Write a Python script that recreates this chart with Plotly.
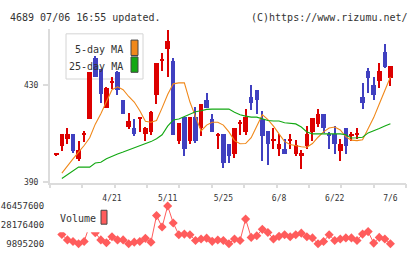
import plotly.graph_objects as go

dates = ["4/7","4/8","4/9","4/10","4/13","4/14","4/15","4/16","4/17","4/20",
         "4/21","4/22","4/23","4/24","4/27","4/28","4/30","5/1","5/7","5/8",
         "5/11","5/12","5/13","5/14","5/15","5/18","5/19","5/20","5/21","5/22",
         "5/25","5/26","5/27","5/28","5/29","6/1","6/2","6/3","6/4","6/5",
         "6/8","6/9","6/10","6/11","6/12","6/15","6/16","6/17","6/18","6/19",
         "6/22","6/23","6/24","6/25","6/26","6/29","6/30","7/1","7/2","7/3","7/6"]

opens = [401.1,404.7,407.8,409.8,399.5,409.6,416.1,441.1,436.7,420.5,
         430.8,435.1,423.9,412.7,412.1,416.0,409.7,410.7,425.9,440.0,
         444.8,440.0,406.8,416.7,406.8,416.7,412.1,423.9,416.0,409.0,
         409.7,405.8,401.5,414.0,410.7,424.9,427.9,416.0,411.0,406.8,
         403.5,403.7,407.0,401.5,400.8,404.8,410.7,414.0,418.0,409.8,
         409.8,402.8,412.1,409.0,409.4,424.9,435.8,429.9,431.6,443.7,432.8]
highs = [401.3,409.8,412.2,409.8,407.0,411.0,435.1,441.9,436.7,429.0,
         433.2,435.5,423.9,418.4,416.0,416.9,412.5,419.0,439.1,443.1,
         452.7,441.1,414.4,416.7,416.7,420.9,422.0,426.8,418.0,410.1,
         409.7,405.8,412.1,415.3,420.0,429.9,427.9,419.0,411.0,412.1,
         409.8,407.7,409.8,407.1,403.1,413.0,416.3,420.1,418.0,410.7,
         413.0,407.7,412.1,410.7,412.1,430.8,437.1,433.2,439.1,447.0,437.8]
lows = [400.9,402.7,405.8,401.9,398.7,406.6,416.1,433.2,422.5,420.3,
        428.4,425.9,418.0,411.8,408.7,410.7,406.8,409.4,422.0,435.5,
        433.2,409.4,405.4,400.8,405.8,406.1,408.7,420.6,410.7,403.5,
        395.8,397.9,399.8,409.4,409.4,419.6,418.0,398.8,396.9,403.5,
        400.8,401.5,403.5,400.8,395.5,403.7,406.8,412.7,410.1,403.5,
        401.5,398.8,401.5,406.8,407.7,420.0,426.6,423.7,428.5,436.9,429.6]
closes = [401.1,409.8,409.8,402.7,403.1,409.8,435.1,433.2,426.4,428.8,
          430.8,427.9,418.0,415.0,409.7,416.9,412.1,418.9,439.1,440.0,
          447.9,409.4,414.4,403.5,416.7,406.8,422.0,420.6,410.7,409.0,
          397.8,400.8,412.1,414.0,416.9,422.6,423.9,408.7,405.4,407.8,
          405.8,401.5,407.0,405.0,401.9,409.8,416.3,418.0,412.1,408.7,
          405.4,405.8,404.8,409.0,409.4,422.6,432.8,425.6,435.8,437.5,437.8]

ma5 = [None,393.6,396.7,399.5,402.3,405.0,408.2,413.8,418.1,423.3,
       428.0,429.2,428.0,425.2,422.9,419.3,415.0,414.6,415.3,420.5,
       426.0,430.4,430.8,430.8,422.9,416.9,411.0,413.4,414.6,414.6,
       413.4,410.6,407.0,405.7,405.8,408.2,413.0,417.7,415.7,413.0,
       409.8,406.6,405.4,404.9,404.5,404.3,405.8,408.4,410.6,412.2,
       412.6,411.4,408.6,407.2,407.0,407.4,412.2,416.5,422.1,428.0,433.2]
ma25 = [None,391.4,393.0,394.8,396.1,396.1,396.1,397.8,398.1,399.5,
        400.6,401.5,402.3,403.1,404.1,405.0,405.8,406.6,407.8,409.4,
        413.0,415.5,415.9,416.9,418.1,418.9,419.3,419.9,420.0,420.0,
        420.0,420.0,418.7,417.7,417.1,416.7,416.7,416.1,415.3,415.1,
        415.1,414.4,414.0,413.9,412.6,410.6,409.8,409.8,409.8,409.8,
        409.8,409.8,409.4,408.1,408.2,408.4,410.2,411.0,412.0,413.0,414.0]

volumes = [None,18800000,13600000,12000000,9895200,12000000,28000000,20500000,13600000,10800000,
           16700000,13600000,13600000,9895200,11400000,12000000,15100000,11400000,37100000,26000000,
           46457600,30000000,18600000,19200000,18600000,13000000,14500000,15300000,12200000,13500000,
           13000000,9895200,14500000,13000000,33700000,16000000,17600000,23800000,20700000,14500000,
           17000000,18600000,16700000,18600000,20100000,16700000,15500000,9895200,12000000,18600000,
           13000000,14500000,15500000,15500000,13000000,19200000,21600000,10500000,16000000,14500000,9895200]

vol_ticks = [9895200, 28176400, 46457600]
price_ticks = [390, 430]
label_every = 10

RED = "#dc0000"
BLUE = "#4040c0"
ORANGE = "#f0881a"
GREEN = "#12a812"
VOLC = "#ff5c5c"
AXC = "#dcdcdc"
TXT = "#333333"
MONO = "DejaVu Sans Mono"

W, H = 420, 259
def px(x): return x / W
def py(y): return 1 - y / H

xs = list(range(len(dates)))
colors = [RED if c >= o else BLUE for o, c in zip(opens, closes)]
body_base = [min(o, c) for o, c in zip(opens, closes)]
body_h = [max(abs(c - o), 0.45) for o, c in zip(opens, closes)]
wick_h = [h - l for h, l in zip(highs, lows)]

fig = go.Figure()
fig.add_trace(go.Bar(x=xs, y=wick_h, base=lows, width=0.2, marker=dict(color=colors, line_width=0),
                     xaxis="x", yaxis="y", showlegend=False))
fig.add_trace(go.Bar(x=xs, y=body_h, base=body_base, width=0.8, marker=dict(color=colors, line_width=0),
                     xaxis="x", yaxis="y", showlegend=False))
fig.add_trace(go.Scatter(x=xs, y=ma5, mode="lines", line=dict(color=ORANGE, width=1.1),
                         xaxis="x", yaxis="y", showlegend=False))
fig.add_trace(go.Scatter(x=xs, y=ma25, mode="lines", line=dict(color=GREEN, width=1.1),
                         xaxis="x", yaxis="y", showlegend=False))
fig.add_trace(go.Scatter(x=xs, y=volumes, mode="lines+markers", cliponaxis=False,
                         line=dict(color=VOLC, width=1),
                         marker=dict(symbol="diamond", size=7, color=VOLC),
                         xaxis="x2", yaxis="y2", showlegend=False))
fig.add_trace(go.Scatter(x=[None], y=[None], xaxis="x3", yaxis="y", showlegend=False))

xr = [-1.13, 62.8]
dom_x = [px(50), px(406)]
fig.update_layout(
    width=W, height=H, margin=dict(l=0, r=0, t=0, b=0),
    paper_bgcolor="white", plot_bgcolor="white", barmode="overlay", bargap=0,
    showlegend=False,
    xaxis=dict(domain=dom_x, range=xr, showline=True, linecolor=AXC, linewidth=2,
               showgrid=False, zeroline=False, ticks="outside", ticklen=7,
               tickcolor="rgba(0,0,0,0)",
               tickvals=xs[label_every::label_every],
               ticktext=dates[label_every::label_every],
               tickfont=dict(family=MONO, size=8, color=TXT), anchor="y"),
    yaxis=dict(domain=[py(185), py(25)], range=[389.6, 453.0], showline=True,
               linecolor=AXC, linewidth=2, showgrid=False, zeroline=False,
               ticks="outside", ticklen=5, tickwidth=2, tickcolor=AXC, tickvals=price_ticks,
               ticklabelstandoff=3,
               tickfont=dict(family=MONO, size=8, color=TXT), anchor="x"),
    xaxis3=dict(overlaying="x", range=[0, 11], dtick=1, tick0=0, ticks="outside",
                ticklen=4, tickwidth=2, tickcolor=AXC, showticklabels=False, showline=False,
                showgrid=False, zeroline=False, anchor="y"),
    xaxis2=dict(domain=dom_x, range=xr, visible=False, anchor="y2"),
    yaxis2=dict(domain=[py(248.3), py(209)], range=[vol_ticks[0], vol_ticks[-1]],
                showline=False, showgrid=False, zeroline=False, ticks="outside", ticklen=3,
                tickcolor="rgba(0,0,0,0)",
                tickvals=vol_ticks, ticktext=[str(v) for v in vol_ticks],
                tickfont=dict(family=MONO, size=9, color=TXT), anchor="x2"),
)

shapes = [
    dict(type="rect", xref="paper", yref="paper", x0=px(66), x1=px(143), y0=py(77), y1=py(30),
         fillcolor="white", line=dict(color="#d4d4d4", width=1), layer="below"),
    dict(type="rect", xref="paper", yref="paper", x0=px(131), x1=px(138), y0=py(52.5), y1=py(36.5),
         fillcolor=ORANGE, line=dict(color="#444", width=1), layer="above"),
    dict(type="rect", xref="paper", yref="paper", x0=px(131), x1=px(138), y0=py(70), y1=py(54),
         fillcolor=GREEN, line=dict(color="#444", width=1), layer="above"),
    dict(type="rect", xref="paper", yref="paper", x0=px(55), x1=px(110), y0=py(236.5), y1=py(208),
         fillcolor="white", line=dict(width=0), layer="above"),
    dict(type="rect", xref="paper", yref="paper", x0=px(101), x1=px(107), y0=py(228), y1=py(213.5),
         fillcolor=VOLC, line=dict(color="#444", width=1), layer="above"),
]
fig.update_layout(shapes=shapes)

ann = [
    dict(text="4689 07/06 16:55 updated.", x=px(8), y=py(13), xanchor="left"),
    dict(text="(C)https://www.rizumu.net/", x=px(410), y=py(13), xanchor="right"),
    dict(text="5-day MA", x=px(125), y=py(46), xanchor="right"),
    dict(text="25-day MA", x=px(125), y=py(64), xanchor="right"),
    dict(text="Volume", x=px(58), y=py(222.5), xanchor="left"),
]
fig.update_layout(annotations=[dict(a, xref="paper", yref="paper", yanchor="middle", showarrow=False,
                                    font=dict(family=MONO, size=10, color=TXT)) for a in ann])

fig.write_html("out.html")
